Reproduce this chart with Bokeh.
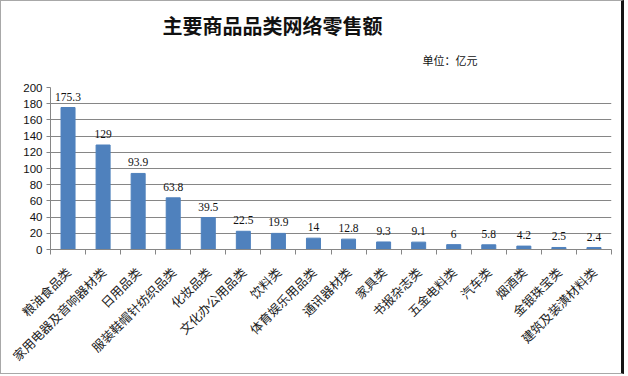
import math
from bokeh.plotting import figure
from bokeh.models import Range1d, FixedTicker, ColumnDataSource, LabelSet, Title
from bokeh.embed import file_html
from bokeh.resources import INLINE

categories = ["粮油食品类", "家用电器及音响器材类", "日用品类", "服装鞋帽针纺织品类", "化妆品类",
              "文化办公用品类", "饮料类", "体育娱乐用品类", "通讯器材类", "家具类",
              "书报杂志类", "五金电料类", "汽车类", "烟酒类", "金银珠宝类", "建筑及装潢材料类"]
values = [175.3, 129, 93.9, 63.8, 39.5, 22.5, 19.9, 14, 12.8, 9.3, 9.1, 6, 5.8, 4.2, 2.5, 2.4]
y_ticks = [0, 20, 40, 60, 80, 100, 120, 140, 160, 180, 200]
title_text = "主要商品品类网络零售额"
unit_text = "单位：亿元"

n = len(categories)
xs = [i + 0.5 for i in range(n)]
source = ColumnDataSource(dict(x=xs, top=values, label=[str(v) for v in values]))

p = figure(width=624, height=374, output_backend="svg", toolbar_location=None, tools="",
           x_range=Range1d(0, n), y_range=Range1d(0, 200),
           min_border_left=49, min_border_right=14, min_border_top=86, min_border_bottom=126)
p.styles = {"border-top": "1px solid #a8a8a8", "border-left": "1px solid #a8a8a8",
            "border-bottom": "1px solid #a8a8a8", "border-right": "3px solid #151515"}
p.outline_line_color = None
p.background_fill_color = "white"
p.border_fill_color = "white"

p.vbar(x="x", top="top", width=0.4, color="#4F81BD", source=source)

axis_color = "#868686"
p.xgrid.visible = False
p.ygrid.grid_line_color = axis_color
p.ygrid.grid_line_width = 1

p.yaxis.ticker = FixedTicker(ticks=y_ticks)
p.yaxis.axis_line_color = axis_color
p.yaxis.major_tick_line_color = axis_color
p.yaxis.major_tick_out = 4
p.yaxis.major_tick_in = 0
p.yaxis.minor_tick_line_color = None
p.yaxis.major_label_standoff = 4
p.yaxis.major_label_text_font = "Liberation Sans"
p.yaxis.major_label_text_font_size = "11.5px"
p.yaxis.major_label_text_color = "#111111"

p.xaxis.ticker = FixedTicker(ticks=xs, minor_ticks=list(range(n + 1)))
p.xaxis.axis_line_color = axis_color
p.xaxis.major_tick_line_color = None
p.xaxis.major_tick_out = 0
p.xaxis.major_tick_in = 0
p.xaxis.minor_tick_line_color = axis_color
p.xaxis.minor_tick_out = 5
p.xaxis.minor_tick_in = 0
p.xaxis.major_label_overrides = {x: c for x, c in zip(xs, categories)}
p.xaxis.major_label_orientation = math.pi / 4
p.xaxis.major_label_standoff = 15
p.xaxis.major_label_text_font = "Noto Sans CJK SC"
p.xaxis.major_label_text_font_size = "12.5px"
p.xaxis.major_label_text_color = "#222222"

labels = LabelSet(x="x", y="top", text="label", source=source, y_offset=7,
                  text_align="center", text_baseline="bottom",
                  text_font="Liberation Sans", text_font_size="11.5px", text_color="#111111")
p.add_layout(labels)

p.add_layout(Title(text=unit_text, align="left", offset=372, vertical_align="top", standoff=36,
                   text_font="Noto Sans CJK SC", text_font_size="11px",
                   text_font_style="normal", text_color="#111111"), "above")
p.add_layout(Title(text=title_text, align="left", offset=112, vertical_align="bottom", standoff=-12,
                   text_font="Noto Sans CJK SC", text_font_size="20px",
                   text_font_style="bold", text_color="#111111"), "above")

open("out.html", "w").write(file_html(p, INLINE))
